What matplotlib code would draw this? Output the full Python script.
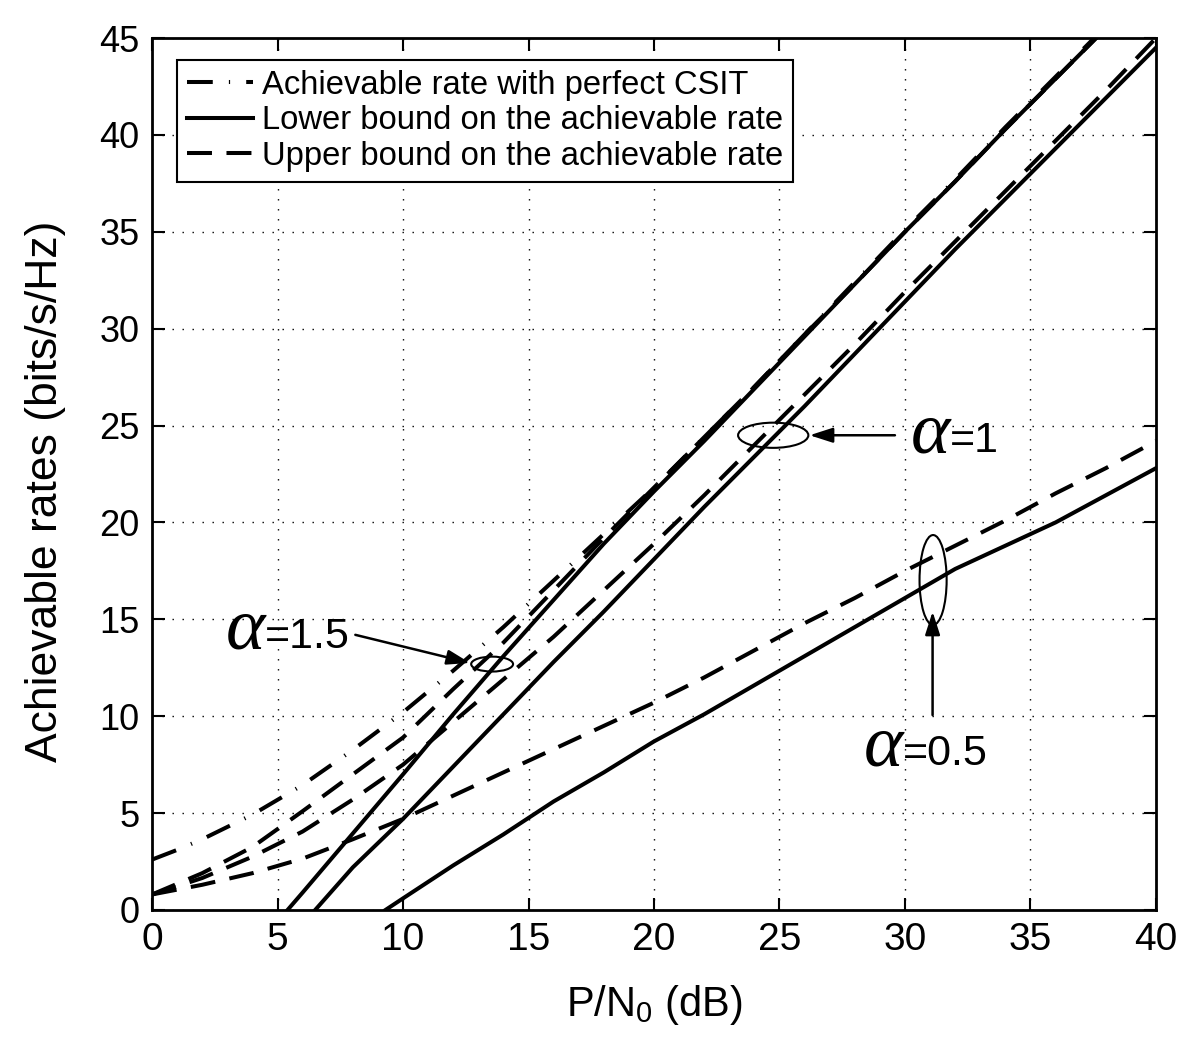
import matplotlib
matplotlib.use("Agg")
import matplotlib.pyplot as plt
from matplotlib.patches import Ellipse

plt.rcParams['font.family'] = ['Liberation Sans', 'DejaVu Sans']

# ---------------- data ----------------
x_csit = [0, 1, 2, 4, 6, 8, 10, 12, 14, 16, 18, 20, 22, 24, 26, 28, 30, 32, 34, 36, 38]
y_csit = [2.6, 3.1, 3.65, 4.92, 6.45, 8.26, 10.2, 12.35, 14.6, 17.0, 19.4, 21.8, 24.4, 27.0,
          29.7, 32.4, 35.1, 37.7, 40.4, 43.0, 45.6]

x_up15 = [0, 2, 4, 6, 8, 10, 12, 14, 16, 18, 20, 22, 24, 26, 28, 30, 32, 34, 36, 38]
y_up15 = [0.8, 1.9, 3.25, 5.1, 7.0, 8.9, 11.4, 13.8, 16.5, 19.2, 21.8, 24.4, 27.0, 29.7,
          32.3, 35.0, 37.6, 40.3, 42.9, 45.5]

x_lo15 = [5.4, 6, 8, 10, 12, 14, 16, 18, 20, 22, 24, 26, 28, 30, 32, 34, 36, 38]
y_lo15 = [0.0, 0.9, 3.95, 7.0, 10.1, 13.1, 16.0, 18.9, 21.6, 24.2, 26.9, 29.6, 32.3, 35.0,
          37.6, 40.3, 42.9, 45.5]

x_up10 = [0, 2, 4, 6, 8, 10, 12, 14, 16, 18, 20, 22, 24, 26, 28, 30, 32, 34, 36, 38, 40]
y_up10 = [0.8, 1.65, 2.75, 4.05, 5.7, 7.5, 9.7, 11.9, 14.1, 16.5, 18.9, 21.4, 24.0, 26.6,
          29.2, 31.9, 34.5, 37.1, 39.7, 42.3, 45.0]

x_lo10 = [6.5, 8, 10, 12, 14, 16, 18, 20, 22, 24, 26, 28, 30, 32, 34, 36, 38, 40]
y_lo10 = [0.0, 2.2, 4.7, 7.4, 10.1, 12.8, 15.4, 18.1, 20.8, 23.4, 26.0, 28.7, 31.4, 34.1,
          36.7, 39.3, 41.9, 44.5]

x_up05 = [0, 2, 4, 6, 8, 10, 12, 14, 16, 18, 20, 22, 24, 26, 28, 30, 32, 34, 36, 38, 40]
y_up05 = [0.8, 1.3, 1.9, 2.65, 3.65, 4.7, 5.9, 7.1, 8.3, 9.5, 10.7, 12.0, 13.4, 14.8,
          16.1, 17.5, 18.8, 20.1, 21.5, 22.8, 24.2]

x_lo05 = [9.3, 10, 12, 14, 16, 18, 20, 22, 24, 26, 28, 30, 32, 34, 36, 38, 40]
y_lo05 = [0.0, 0.6, 2.3, 3.9, 5.6, 7.1, 8.7, 10.1, 11.6, 13.1, 14.6, 16.1, 17.6, 18.8,
          20.0, 21.4, 22.8]

legend_labels = ['Achievable rate with perfect CSIT',
                 'Lower bound on the achievable rate',
                 'Upper bound on the achievable rate']
x_ticks = [0, 5, 10, 15, 20, 25, 30, 35, 40]
y_ticks = [0, 5, 10, 15, 20, 25, 30, 35, 40, 45]

# ---------------- figure ----------------
fig = plt.figure(figsize=(12, 10.48), dpi=100)
ax = fig.add_axes([0.1267, 0.1317, 0.8366, 0.832])

LW = 2.9
DASH = (6.2, 3.6)
DASHDOT = (6.4, 4.0, 0.3, 4.0)

l_csit, = ax.plot(x_csit, y_csit, color='k', lw=LW, dashes=DASHDOT)
l_lo, = ax.plot(x_lo15, y_lo15, color='k', lw=LW)
l_up, = ax.plot(x_up15, y_up15, color='k', lw=LW, dashes=DASH)
ax.plot(x_lo10, y_lo10, color='k', lw=LW)
ax.plot(x_up10, y_up10, color='k', lw=LW, dashes=DASH)
ax.plot(x_lo05, y_lo05, color='k', lw=LW)
ax.plot(x_up05, y_up05, color='k', lw=LW, dashes=DASH)

ax.set_xlim(0, 40)
ax.set_ylim(0, 45)
ax.set_xticks(x_ticks)
ax.set_yticks(y_ticks)
ax.set_xticklabels([str(t) for t in x_ticks], fontsize=28)
ax.set_yticklabels([str(t) for t in y_ticks], fontsize=26)
ax.tick_params(direction='in', length=9, width=1.5, top=True, right=True)
ax.tick_params(axis='x', pad=9)
ax.tick_params(axis='y', pad=9)
for s in ax.spines.values():
    s.set_linewidth(2.0)
ax.grid(True, color='k', lw=1.0, dashes=(1, 6.2))

ax.set_xlabel(r'P/N$_\mathregular{0}$ (dB)', fontsize=30, labelpad=18)
ax.set_ylabel('Achievable rates (bits/s/Hz)', fontsize=32)
ax.yaxis.set_label_coords(-0.086, 0.48)

leg = ax.legend([l_csit, l_lo, l_up], legend_labels, loc='upper left',
                bbox_to_anchor=(0.025, 0.975), fontsize=23.6, frameon=True,
                fancybox=False, edgecolor='k', framealpha=1, borderaxespad=0,
                handlelength=2.0, handletextpad=0.3, borderpad=0.3, labelspacing=0.14)
leg.get_frame().set_linewidth(1.5)

# ---------------- annotations ----------------
ax.add_patch(Ellipse((13.55, 12.69), 1.67, 0.77, fill=False, ec='k', lw=1.5))
ax.add_patch(Ellipse((24.75, 24.5), 2.8, 1.3, fill=False, ec='k', lw=1.5))
ax.add_patch(Ellipse((31.12, 17.03), 1.08, 4.64, fill=False, ec='k', lw=1.5))

arrow = dict(arrowstyle='-|>,head_length=1.4,head_width=0.45', color='k', lw=1.8,
             shrinkA=0, shrinkB=0)
ax.annotate('', xy=(12.67, 12.75), xytext=(8.1, 14.2), arrowprops=arrow)
ax.annotate('', xy=(26.2, 24.5), xytext=(29.6, 24.5), arrowprops=arrow)
ax.annotate('', xy=(31.1, 15.4), xytext=(31.1, 10.06), arrowprops=arrow)

afont = dict(family=['Liberation Serif', 'DejaVu Serif'], style='italic', fontsize=54)
tfont = dict(fontsize=31)
for (xa, ya, rest) in [(4.5, 13.52, '=1.5'), (31.8, 23.63, '=1'), (29.92, 7.48, '=0.5')]:
    ax.text(xa, ya, 'α', ha='right', va='baseline', **afont)
    ax.text(xa, ya, rest, ha='left', va='baseline', **tfont)

fig.savefig('out.png', dpi=100)
